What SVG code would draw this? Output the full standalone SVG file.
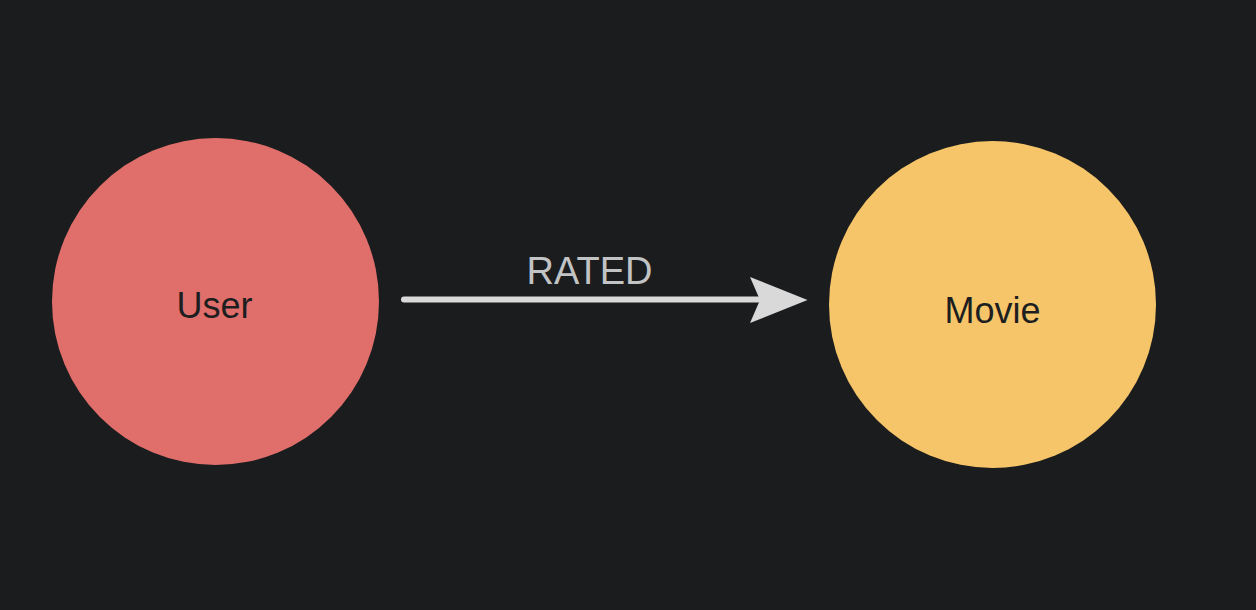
<svg xmlns="http://www.w3.org/2000/svg" width="1256" height="610" viewBox="0 0 1256 610">
<style>
.node-label{font-family:"Liberation Sans",Arial,sans-serif;font-size:36px;fill:#1d1e20;text-anchor:middle}
.edge-label{font-family:"Liberation Sans",Arial,sans-serif;font-size:38px;fill:#c2c3c5;text-anchor:middle}
.edge{stroke:#d9d9d9;stroke-width:6;stroke-linecap:round;fill:none}
</style>
<rect width="1256" height="610" fill="#1b1c1e"/>
<g id="connectors">
<line class="edge" x1="404" y1="299.5" x2="765" y2="299.5"/>
<polygon points="807.5,300 750,277 760,300 750,323" fill="#d9d9d9"/>
<text class="edge-label" x="589.5" y="283.5">RATED</text>
</g>
<g id="user">
<circle cx="215.5" cy="301.5" r="163.5" fill="#e06f6b"/>
<text class="node-label" x="214.5" y="317.5">User</text>
</g>
<g id="movie">
<circle cx="992.5" cy="304.5" r="163.5" fill="#f6c56a"/>
<text class="node-label" x="992.5" y="322.5">Movie</text>
</g>
</svg>
